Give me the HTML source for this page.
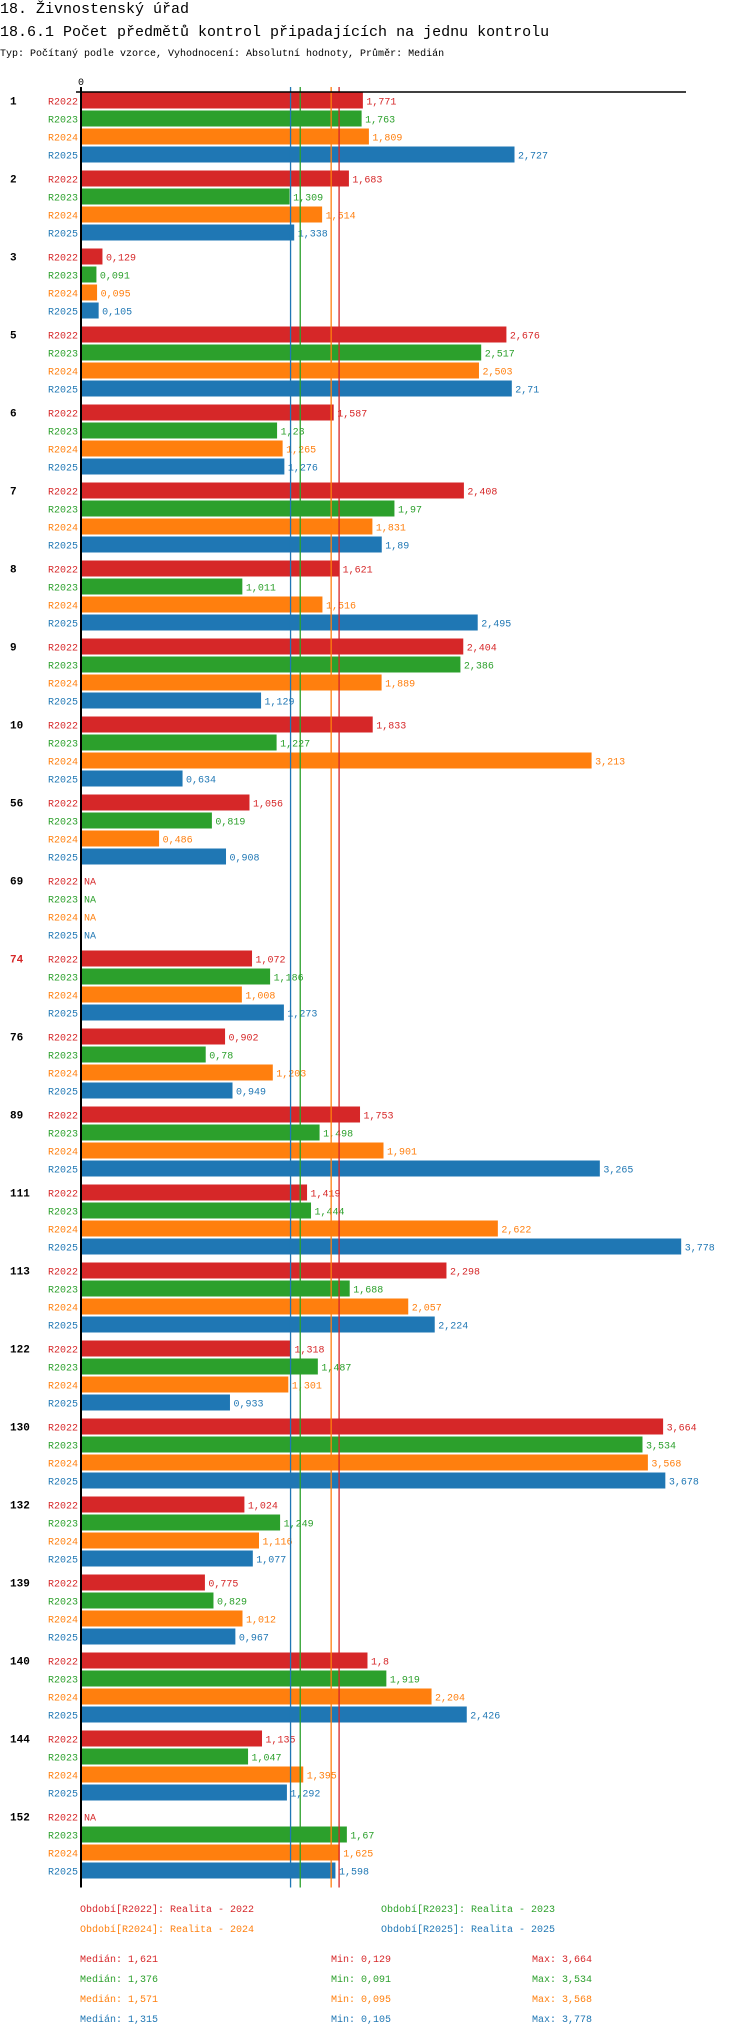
<!DOCTYPE html>
<html><head><meta charset="utf-8"><style>
body{margin:0;background:#fff;}
svg{display:block;font-family:"Liberation Mono",monospace;}
</style></head><body>
<svg id="c" width="750" height="2036" xmlns="http://www.w3.org/2000/svg">
<text x="0" y="13" font-size="15">18. Živnostenský úřad</text>
<text x="0" y="36" font-size="15">18.6.1 Počet předmětů kontrol připadajících na jednu kontrolu</text>
<text x="0" y="56" font-size="10">Typ: Počítaný podle vzorce, Vyhodnocení: Absolutní hodnoty, Průměr: Medián</text>
</svg>
<script>
const categories=["1","2","3","5","6","7","8","9","10","56","69","74","76","89","111","113","122","130","132","139","140","144","152"];
const seriesNames=["R2022","R2023","R2024","R2025"];
const r2022=[1.771,1.683,0.129,2.676,1.587,2.408,1.621,2.404,1.833,1.056,null,1.072,0.902,1.753,1.419,2.298,1.318,3.664,1.024,0.775,1.8,1.135,null];
const r2023=[1.763,1.309,0.091,2.517,1.23,1.97,1.011,2.386,1.227,0.819,null,1.186,0.78,1.498,1.444,1.688,1.487,3.534,1.249,0.829,1.919,1.047,1.67];
const r2024=[1.809,1.514,0.095,2.503,1.265,1.831,1.516,1.889,3.213,0.486,null,1.008,1.203,1.901,2.622,2.057,1.301,3.568,1.116,1.012,2.204,1.395,1.625];
const r2025=[2.727,1.338,0.105,2.71,1.276,1.89,2.495,1.129,0.634,0.908,null,1.273,0.949,3.265,3.778,2.224,0.933,3.678,1.077,0.967,2.426,1.292,1.598];
const medians=[1.621,1.376,1.571,1.315];
const mins=[0.129,0.091,0.095,0.105];
const maxs=[3.664,3.534,3.568,3.778];
const legendText=["Období[R2022]: Realita - 2022","Období[R2023]: Realita - 2023","Období[R2024]: Realita - 2024","Období[R2025]: Realita - 2025"];
const highlighted=["74"];

const series=[r2022,r2023,r2024,r2025];
const colors=["#d62728","#2ca02c","#ff7f0e","#1f77b4"];
const svg=document.getElementById('c');
const NS="http://www.w3.org/2000/svg";
const x0=82,k=158.6,top0=92.5,gp=78,bp=18,bh=16;
const X=v=>x0+v*k;
const Y=(g,s)=>top0+g*gp+s*bp;
function mk(t,a,txt){const e=document.createElementNS(NS,t);for(const n in a)e.setAttribute(n,a[n]);if(txt!=null)e.textContent=txt;svg.appendChild(e);return e;}
const fmt=v=>String(v).replace('.',',');
const bottom=Y(categories.length-1,3)+bh+9;
categories.forEach((c,g)=>{
  let e=mk('text',{x:10,y:Y(g,0)+12,'font-size':11,'font-weight':'bold',fill:highlighted.includes(c)?'#d62728':'#000'},c);
  
  
  series.forEach((arr,s)=>{
    const y=Y(g,s);
    e=mk('text',{x:78,y:y+12,'font-size':10,fill:colors[s],'text-anchor':'end'},seriesNames[s]);
    
    
    const v=arr[g];
    if(v==null){
      e=mk('text',{x:84,y:y+12,'font-size':10,fill:colors[s]},'NA');
      
      
    }else{
      e=mk('rect',{x:x0,y:y,width:X(v)-x0,height:bh,fill:colors[s]});
      
      
      e=mk('text',{x:X(v)+3.5,y:y+12,'font-size':10,fill:colors[s]},fmt(v));
      
      
    }
  });
});
medians.forEach((m,s)=>{
  const e=mk('line',{x1:X(m),x2:X(m),y1:87,y2:bottom,stroke:colors[s],'stroke-width':1.3});
  
  
});
let a=mk('line',{x1:76,x2:686,y1:92,y2:92,stroke:'#000','stroke-width':1.5});


a=mk('line',{x1:81,x2:81,y1:87,y2:bottom,stroke:'#000','stroke-width':2});


a=mk('text',{x:81,y:85,'font-size':10,'text-anchor':'middle'},'0');


legendText.forEach((t,s)=>{
  const e=mk('text',{x:s%2?381:80,y:(s<2?1912:1932),'font-size':10,fill:colors[s]},t);
  
  
});
for(let s=0;s<4;s++){
  const y=1962+s*20;
  let e=mk('text',{x:80,y:y,'font-size':10,fill:colors[s]},'Medián: '+fmt(medians[s]));
  
  
  e=mk('text',{x:331,y:y,'font-size':10,fill:colors[s]},'Min: '+fmt(mins[s]));
  
  
  e=mk('text',{x:532,y:y,'font-size':10,fill:colors[s]},'Max: '+fmt(maxs[s]));
  
  
}
</script>
</body></html>
